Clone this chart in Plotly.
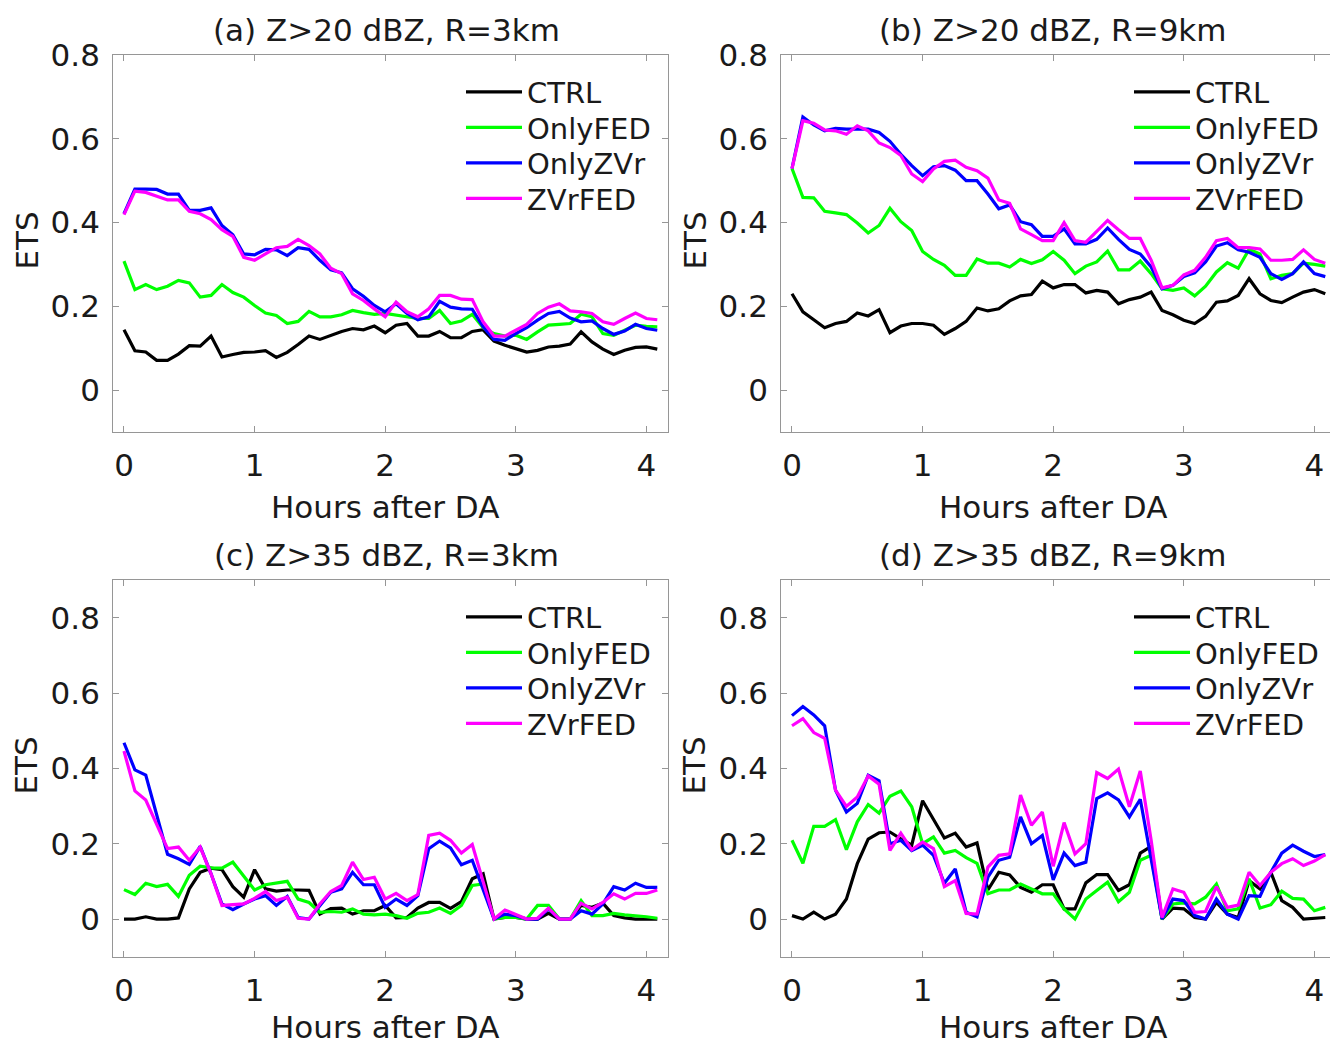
import plotly.graph_objects as go

MINUTES = list(range(0, 250, 5))
HOURS = [m / 60 for m in MINUTES]

SERIES_NAMES = ["CTRL", "OnlyFED", "OnlyZVr", "ZVrFED"]
SERIES_COLORS = ["#000000", "#00ff00", "#0000ff", "#ff00ff"]

PANEL_TITLES = ["(a) Z>20 dBZ, R=3km", "(b) Z>20 dBZ, R=9km",
                "(c) Z>35 dBZ, R=3km", "(d) Z>35 dBZ, R=9km"]

X_TICKS = [0, 1, 2, 3, 4]
Y_TICKS = [0, 0.2, 0.4, 0.6, 0.8]

# ---- panel (a) Z>20 dBZ, R=3km
a_ctrl = [0.144, 0.094, 0.091, 0.071, 0.071, 0.086, 0.106, 0.105, 0.129, 0.079,
          0.085, 0.090, 0.091, 0.094, 0.078, 0.090, 0.109, 0.129, 0.121, 0.131,
          0.140, 0.147, 0.144, 0.153, 0.137, 0.155, 0.159, 0.129, 0.129, 0.140,
          0.125, 0.125, 0.140, 0.144, 0.117, 0.107, 0.098, 0.091, 0.095, 0.103,
          0.105, 0.110, 0.139, 0.115, 0.098, 0.085, 0.095, 0.102, 0.103, 0.098]
a_fed = [0.308, 0.240, 0.252, 0.240, 0.248, 0.262, 0.256, 0.222, 0.226, 0.252,
         0.233, 0.222, 0.202, 0.184, 0.178, 0.159, 0.164, 0.188, 0.175, 0.175,
         0.180, 0.190, 0.185, 0.181, 0.183, 0.179, 0.176, 0.171, 0.171, 0.190,
         0.159, 0.165, 0.181, 0.149, 0.135, 0.129, 0.131, 0.121, 0.139, 0.155,
         0.157, 0.159, 0.181, 0.175, 0.135, 0.131, 0.143, 0.155, 0.152, 0.151]
a_zvr = [0.421, 0.480, 0.480, 0.479, 0.468, 0.468, 0.429, 0.429, 0.435, 0.393,
         0.371, 0.325, 0.323, 0.336, 0.335, 0.321, 0.340, 0.336, 0.310, 0.287,
         0.280, 0.242, 0.224, 0.202, 0.187, 0.206, 0.183, 0.168, 0.175, 0.212,
         0.198, 0.194, 0.193, 0.151, 0.121, 0.119, 0.135, 0.149, 0.167, 0.183,
         0.188, 0.172, 0.163, 0.165, 0.147, 0.133, 0.141, 0.157, 0.147, 0.143]
a_zvrfed = [0.419, 0.475, 0.472, 0.463, 0.454, 0.454, 0.427, 0.421, 0.407, 0.383,
            0.367, 0.317, 0.310, 0.325, 0.340, 0.343, 0.360, 0.345, 0.325, 0.291,
            0.278, 0.230, 0.214, 0.194, 0.175, 0.210, 0.187, 0.175, 0.194, 0.226,
            0.226, 0.217, 0.216, 0.163, 0.129, 0.129, 0.144, 0.157, 0.183, 0.198,
            0.206, 0.189, 0.187, 0.183, 0.163, 0.157, 0.171, 0.184, 0.171, 0.168]

# ---- panel (b) Z>20 dBZ, R=9km
b_ctrl = [0.230, 0.187, 0.168, 0.149, 0.159, 0.164, 0.184, 0.177, 0.192, 0.137,
          0.153, 0.159, 0.159, 0.155, 0.133, 0.147, 0.164, 0.196, 0.189, 0.194,
          0.213, 0.225, 0.228, 0.260, 0.244, 0.252, 0.252, 0.232, 0.238, 0.234,
          0.206, 0.216, 0.222, 0.234, 0.190, 0.180, 0.167, 0.159, 0.176, 0.210,
          0.213, 0.226, 0.266, 0.230, 0.214, 0.209, 0.222, 0.234, 0.240, 0.230]
b_fed = [0.529, 0.460, 0.459, 0.427, 0.423, 0.419, 0.399, 0.375, 0.393, 0.434,
         0.402, 0.381, 0.331, 0.312, 0.298, 0.274, 0.274, 0.313, 0.303, 0.303,
         0.294, 0.312, 0.302, 0.311, 0.331, 0.310, 0.278, 0.296, 0.306, 0.332,
         0.287, 0.287, 0.308, 0.278, 0.242, 0.238, 0.244, 0.225, 0.248, 0.282,
         0.304, 0.291, 0.336, 0.325, 0.266, 0.274, 0.278, 0.303, 0.300, 0.296]
b_zvr = [0.529, 0.652, 0.633, 0.619, 0.625, 0.623, 0.623, 0.623, 0.615, 0.594,
         0.563, 0.536, 0.512, 0.533, 0.536, 0.525, 0.500, 0.500, 0.468, 0.433,
         0.442, 0.402, 0.395, 0.367, 0.367, 0.385, 0.349, 0.349, 0.360, 0.387,
         0.360, 0.336, 0.325, 0.294, 0.242, 0.250, 0.271, 0.280, 0.306, 0.344,
         0.352, 0.335, 0.329, 0.317, 0.278, 0.264, 0.278, 0.306, 0.278, 0.271]
b_zvrfed = [0.529, 0.643, 0.637, 0.621, 0.619, 0.611, 0.631, 0.619, 0.590, 0.579,
            0.560, 0.516, 0.498, 0.528, 0.546, 0.549, 0.532, 0.524, 0.506, 0.454,
            0.446, 0.385, 0.371, 0.357, 0.357, 0.400, 0.357, 0.353, 0.379, 0.405,
            0.383, 0.362, 0.362, 0.310, 0.244, 0.250, 0.275, 0.286, 0.317, 0.357,
            0.362, 0.340, 0.340, 0.337, 0.310, 0.310, 0.312, 0.335, 0.312, 0.303]

# ---- panel (c) Z>35 dBZ, R=3km
c_ctrl = [0.000, 0.000, 0.006, 0.000, 0.000, 0.003, 0.080, 0.124, 0.135, 0.131,
          0.086, 0.058, 0.131, 0.080, 0.074, 0.077, 0.077, 0.076, 0.013, 0.028,
          0.029, 0.013, 0.022, 0.022, 0.036, 0.003, 0.004, 0.029, 0.044, 0.044,
          0.028, 0.046, 0.107, 0.120, 0.000, 0.004, 0.004, 0.000, 0.000, 0.015,
          0.000, 0.000, 0.036, 0.031, 0.042, 0.009, 0.003, 0.000, 0.000, 0.000]
c_fed = [0.078, 0.065, 0.095, 0.086, 0.092, 0.060, 0.116, 0.140, 0.136, 0.135,
         0.151, 0.114, 0.077, 0.091, 0.095, 0.100, 0.053, 0.044, 0.018, 0.020,
         0.018, 0.027, 0.013, 0.011, 0.013, 0.009, 0.002, 0.015, 0.018, 0.029,
         0.015, 0.036, 0.089, 0.093, 0.000, 0.004, 0.004, 0.000, 0.036, 0.036,
         0.000, 0.000, 0.049, 0.009, 0.009, 0.015, 0.011, 0.009, 0.006, 0.002]
c_zvr = [0.468, 0.396, 0.382, 0.280, 0.172, 0.160, 0.145, 0.193, 0.120, 0.040,
         0.025, 0.040, 0.053, 0.062, 0.036, 0.060, 0.004, 0.000, 0.036, 0.071,
         0.080, 0.124, 0.091, 0.091, 0.031, 0.053, 0.036, 0.062, 0.187, 0.207,
         0.189, 0.144, 0.156, 0.080, 0.000, 0.013, 0.009, 0.000, 0.000, 0.027,
         0.000, 0.000, 0.022, 0.013, 0.040, 0.086, 0.077, 0.095, 0.084, 0.084]
c_zvrfed = [0.446, 0.340, 0.316, 0.253, 0.187, 0.191, 0.156, 0.191, 0.120, 0.036,
            0.037, 0.040, 0.055, 0.073, 0.049, 0.058, 0.002, 0.000, 0.040, 0.073,
            0.089, 0.151, 0.105, 0.111, 0.053, 0.068, 0.049, 0.065, 0.222, 0.228,
            0.209, 0.175, 0.198, 0.102, 0.000, 0.024, 0.013, 0.000, 0.002, 0.029,
            0.000, 0.000, 0.042, 0.027, 0.044, 0.067, 0.053, 0.068, 0.068, 0.077]

# ---- panel (d) Z>35 dBZ, R=9km
d_ctrl = [0.009, 0.000, 0.018, 0.000, 0.013, 0.053, 0.147, 0.212, 0.229, 0.231,
          0.213, 0.196, 0.314, 0.264, 0.215, 0.228, 0.191, 0.202, 0.077, 0.124,
          0.117, 0.084, 0.071, 0.091, 0.091, 0.027, 0.027, 0.096, 0.118, 0.118,
          0.076, 0.091, 0.175, 0.193, 0.000, 0.029, 0.027, 0.004, 0.000, 0.044,
          0.013, 0.004, 0.102, 0.080, 0.124, 0.049, 0.031, 0.000, 0.002, 0.004]
d_fed = [0.209, 0.148, 0.246, 0.246, 0.264, 0.184, 0.258, 0.304, 0.281, 0.326,
         0.340, 0.298, 0.200, 0.218, 0.175, 0.182, 0.163, 0.148, 0.067, 0.077,
         0.077, 0.093, 0.080, 0.067, 0.067, 0.027, 0.000, 0.053, 0.076, 0.098,
         0.046, 0.071, 0.156, 0.169, 0.000, 0.040, 0.043, 0.040, 0.058, 0.093,
         0.022, 0.027, 0.107, 0.029, 0.038, 0.074, 0.055, 0.053, 0.022, 0.031]
d_zvr = [0.540, 0.564, 0.542, 0.513, 0.342, 0.284, 0.307, 0.382, 0.367, 0.200,
         0.209, 0.182, 0.196, 0.169, 0.095, 0.133, 0.018, 0.006, 0.111, 0.156,
         0.164, 0.271, 0.200, 0.222, 0.104, 0.175, 0.142, 0.151, 0.320, 0.335,
         0.316, 0.271, 0.318, 0.164, 0.000, 0.053, 0.049, 0.009, 0.000, 0.053,
         0.013, 0.000, 0.062, 0.060, 0.124, 0.175, 0.196, 0.180, 0.166, 0.171]
d_zvrfed = [0.513, 0.532, 0.495, 0.480, 0.342, 0.299, 0.324, 0.380, 0.358, 0.182,
            0.228, 0.184, 0.204, 0.187, 0.086, 0.102, 0.015, 0.013, 0.138, 0.169,
            0.173, 0.329, 0.249, 0.284, 0.140, 0.256, 0.173, 0.200, 0.389, 0.373,
            0.398, 0.298, 0.393, 0.209, 0.004, 0.080, 0.071, 0.018, 0.020, 0.086,
            0.031, 0.037, 0.124, 0.089, 0.124, 0.147, 0.160, 0.142, 0.154, 0.171]

PANELS = [
    [a_ctrl, a_fed, a_zvr, a_zvrfed],
    [b_ctrl, b_fed, b_zvr, b_zvrfed],
    [c_ctrl, c_fed, c_zvr, c_zvrfed],
    [d_ctrl, d_fed, d_zvr, d_zvrfed],
]

# ---------------- layout geometry (pixels) ----------------
W, H = 1330, 1048
PX_PER_HOUR = 130.6
X_LO = -5 / 60
LEFT_ZERO = [124.0, 792.0]          # pixel of x=0 for left/right column
TOP_BOX = [(55.0, 432.0), (580.0, 956.7)]
XLABEL_OFFSET = [75.0, 70.0]        # px below box bottom, per row
Y_RANGES = [[-0.1, 0.8], [-0.1, 0.9]]
LEGEND_ROW_OFFSETS = [37.0, 72.5, 108.0, 143.5]   # px below box top

FONT = "DejaVu Sans"
FS = 31
LEG_FS = 29
TXT = "#1a1a1a"
AX_COL = "#969696"

fig = go.Figure()
annotations = []
layout = dict(
    template="none",
    width=W, height=H,
    margin=dict(l=0, r=0, t=0, b=0, autoexpand=False),
    paper_bgcolor="white", plot_bgcolor="white",
    font=dict(family=FONT, size=FS, color=TXT),
)

k = 0
for p in range(4):
    row, col = divmod(p, 2)
    suffix = "" if p == 0 else str(p + 1)
    zero = LEFT_ZERO[col]
    x_left = zero + X_LO * PX_PER_HOUR
    x_right = min(zero + (250 / 60) * PX_PER_HOUR, W)
    x_hi = (x_right - zero) / PX_PER_HOUR
    top, bot = TOP_BOX[row]
    xdom = [x_left / W, x_right / W]
    ydom = [1 - bot / H, 1 - top / H]
    mirror_y = "ticks" if col == 0 else False

    layout["xaxis" + suffix] = dict(
        domain=xdom, anchor="y" + suffix, range=[X_LO, x_hi],
        tickvals=X_TICKS, ticks="inside", ticklen=6, tickcolor=AX_COL,
        showline=True, linecolor=AX_COL, linewidth=1, mirror="ticks",
        showgrid=False, zeroline=False, automargin=False,
        tickfont=dict(family=FONT, size=FS, color=TXT),
        ticklabelstandoff=6,
    )
    layout["yaxis" + suffix] = dict(
        domain=ydom, anchor="x" + suffix, range=Y_RANGES[row],
        tickvals=Y_TICKS, ticks="inside", ticklen=6, tickcolor=AX_COL,
        showline=True, linecolor=AX_COL, linewidth=1, mirror=mirror_y,
        showgrid=False, zeroline=False, automargin=False,
        tickfont=dict(family=FONT, size=FS, color=TXT),
        ticklabelstandoff=6,
    )

    for s in range(4):
        legend_key = "legend" if k == 0 else "legend" + str(k + 1)
        layout[legend_key] = dict(
            x=(zero + 337) / W, y=1 - (top + LEGEND_ROW_OFFSETS[s]) / H,
            xanchor="left", yanchor="middle",
            bgcolor="rgba(0,0,0,0)", borderwidth=0,
            font=dict(family=FONT, size=LEG_FS, color=TXT),
            itemwidth=56,
        )
        fig.add_trace(go.Scatter(
            x=HOURS, y=PANELS[p][s], mode="lines",
            name=SERIES_NAMES[s],
            line=dict(color=SERIES_COLORS[s], width=3.2),
            xaxis="x" + suffix, yaxis="y" + suffix,
            legend=legend_key, showlegend=True,
        ))
        k += 1

    title_cx = [386.5, 1052.5][col]
    annotations.append(dict(
        text=PANEL_TITLES[p], xref="paper", yref="paper",
        x=title_cx / W, y=1 - (top - 25) / H,
        xanchor="center", yanchor="middle", showarrow=False,
        font=dict(family=FONT, size=FS, color=TXT),
    ))
    annotations.append(dict(
        text="Hours after DA", xref="paper", yref="paper",
        x=(zero + 2 * PX_PER_HOUR) / W, y=1 - (bot + XLABEL_OFFSET[row]) / H,
        xanchor="center", yanchor="middle", showarrow=False,
        font=dict(family=FONT, size=FS, color=TXT),
    ))
    annotations.append(dict(
        text="ETS", xref="paper", yref="paper",
        x=(x_left - 87) / W, y=1 - ((top + bot) / 2 - 3) / H,
        xanchor="center", yanchor="middle", showarrow=False, textangle=-90,
        font=dict(family=FONT, size=FS, color=TXT),
    ))

layout["annotations"] = annotations
fig.update_layout(**layout)

fig.write_html("out.html", config={"displayModeBar": False},
               post_script="document.body.style.margin='0';")
